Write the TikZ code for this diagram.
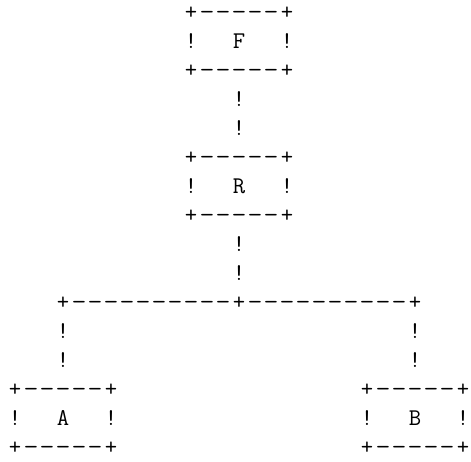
\documentclass[tikz,border=0pt]{standalone}
\tikzset{ch/.style={font=\ttfamily\fontsize{24}{24}\selectfont, inner sep=0pt, anchor=base}}
\newcommand{\dashglyph}{\scalebox{1.2}[1]{-}}
\newcommand{\plotch}[3]{\node[ch] (r#1c#2) at ({15+16*#2},{442-29*#1}) {#3};}
\newcommand{\plotbar}[3]{%
  \plotch{#1}{#2}{+}%
  \foreach \k in {1,...,#3}{\pgfmathtruncatemacro{\cc}{#2+\k}\plotch{#1}{\cc}{\dashglyph}}%
  \pgfmathtruncatemacro{\ce}{#2+#3+1}\plotch{#1}{\ce}{+}}
\newcommand{\plotlabel}[4]{\node[ch] (#4) at ({15+16*#2},{442-29*#1}) {#3};}
\begin{document}
\begin{tikzpicture}[x=1pt,y=1pt]
\useasboundingbox (0,0) rectangle (471,462);
% box F
\plotbar{0}{11}{5}
\plotch{1}{11}{!} \plotlabel{1}{14}{F}{F} \plotch{1}{17}{!}
\plotbar{2}{11}{5}
\plotch{3}{14}{!}
\plotch{4}{14}{!}
% box R
\plotbar{5}{11}{5}
\plotch{6}{11}{!} \plotlabel{6}{14}{R}{R} \plotch{6}{17}{!}
\plotbar{7}{11}{5}
\plotch{8}{14}{!}
\plotch{9}{14}{!}
% branch
\plotbar{10}{3}{10}
\foreach \k in {15,...,24}{\plotch{10}{\k}{\dashglyph}}
\plotch{10}{25}{+}
\plotch{11}{3}{!} \plotch{11}{25}{!}
\plotch{12}{3}{!} \plotch{12}{25}{!}
% boxes A and B
\plotbar{13}{0}{5} \plotbar{13}{22}{5}
\plotch{14}{0}{!} \plotlabel{14}{3}{A}{A} \plotch{14}{6}{!}
\plotch{14}{22}{!} \plotlabel{14}{25}{B}{B} \plotch{14}{28}{!}
\plotbar{15}{0}{5} \plotbar{15}{22}{5}
\end{tikzpicture}
\end{document}
